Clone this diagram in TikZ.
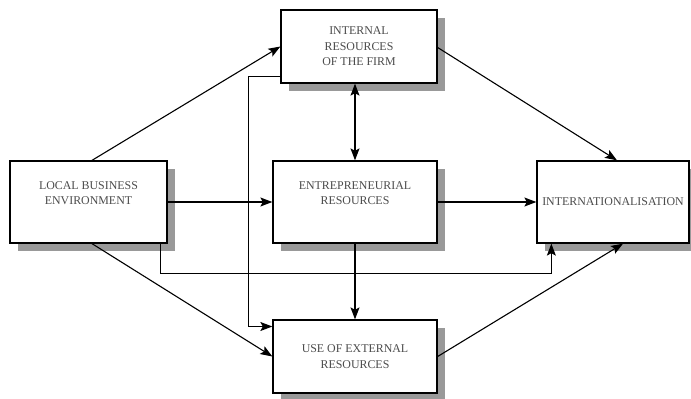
\documentclass[tikz,border=0pt]{standalone}
\usepackage{fontspec}
\setmainfont{Liberation Serif}
\usetikzlibrary{arrows.meta,shadows}
\definecolor{txtgray}{gray}{0.3}
\definecolor{shadegray}{gray}{0.6}

\begin{document}
\begin{tikzpicture}[x=1pt, y=-1pt, >={Stealth[length=12pt,width=9pt,inset=2.5pt]},
  font=\fontsize{11.9}{15.5}\selectfont,
  box/.style={draw, line width=1.3pt, fill=white, align=center, inner sep=0pt, text=txtgray,
    drop shadow={fill=shadegray, opacity=1, shadow xshift=7.5pt, shadow yshift=-7.5pt}},
  link/.style={->, line width=1.1pt}]
  \useasboundingbox (0,0) rectangle (691,399);
  \node[box, minimum width=157pt, minimum height=82pt, text depth=18pt] (loc)  at (88.5,202)  {LOCAL BUSINESS\\ENVIRONMENT};
  \node[box, minimum width=156pt, minimum height=73pt] (intr) at (359,46.5)  {INTERNAL\\RESOURCES\\OF THE FIRM};
  \node[box, minimum width=164pt, minimum height=82pt, text depth=18pt] (ent)  at (355,202)   {ENTREPRENEURIAL\\RESOURCES};
  \node[box, minimum width=152pt, minimum height=82pt] (intl) at (613,202)   {INTERNATIONALISATION};
  \node[box, minimum width=164pt, minimum height=73pt] (ext)  at (355,356.5) {USE OF EXTERNAL\\RESOURCES};
  \draw[link] ([xshift=3.5pt]loc.north) -- (intr.west);
  \draw[link] (loc.east) -- (ent.west);
  \draw[link] ([xshift=3.5pt]loc.south) -- (ext.west);
  \draw[link] ([xshift=-7pt]loc.south east) -- ++(0,30) -| ([xshift=15pt]intl.south west);
  \draw[link] ([yshift=-30pt]intr.west) -- ++(-32,0) |- ([yshift=30pt]ext.west);
  \draw[link, <->] (intr.south -| ent.north) -- (ent.north);
  \draw[link] ([yshift=-1pt]intr.east) -- ([xshift=4pt]intl.north);
  \draw[link] (ent.east) -- (intl.west);
  \draw[link] (ent.south) -- (ext.north);
  \draw[link] (ext.east) -- ([xshift=10pt]intl.south);
\end{tikzpicture}
\end{document}
